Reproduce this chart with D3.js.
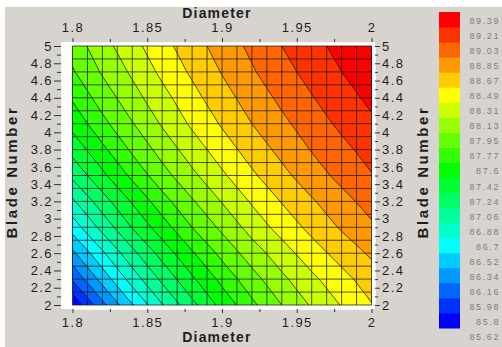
<!DOCTYPE html>
<html>
<head>
<meta charset="utf-8">
<script src="https://cdn.jsdelivr.net/npm/d3@7"></script>
<style>
  html, body { margin: 0; padding: 0; background: #ffffff; }
  svg { display: block; font-family: "Liberation Sans", Arial, sans-serif; }
</style>
</head>
<body>
<svg id="chart" width="502" height="347"></svg>
<script>
// Sample grid: diameter columns, blade-number rows
const diameters = [1.80, 1.82, 1.84, 1.86, 1.88, 1.90, 1.92, 1.94, 1.96, 1.98, 2.00];
const bladeNumbers = [2.0, 2.3, 2.6, 2.9, 3.2, 3.5, 3.8, 4.1, 4.4, 4.7, 5.0];

// Efficiency (%) — one row per blade number, one column per diameter
const efficiencyB20 = [85.65, 86.11, 86.51, 86.87, 87.19, 87.48, 87.73, 87.95, 88.15, 88.32, 88.48];
const efficiencyB23 = [86.00, 86.41, 86.78, 87.10, 87.39, 87.65, 87.88, 88.09, 88.27, 88.43, 88.58];
const efficiencyB26 = [86.30, 86.67, 87.01, 87.31, 87.58, 87.82, 88.04, 88.23, 88.41, 88.56, 88.70];
const efficiencyB29 = [86.60, 86.94, 87.25, 87.52, 87.77, 87.99, 88.20, 88.38, 88.54, 88.69, 88.82];
const efficiencyB32 = [86.85, 87.16, 87.44, 87.70, 87.93, 88.14, 88.33, 88.50, 88.65, 88.79, 88.92];
const efficiencyB35 = [87.10, 87.38, 87.64, 87.88, 88.09, 88.28, 88.46, 88.62, 88.77, 88.90, 89.02];
const efficiencyB38 = [87.30, 87.56, 87.80, 88.02, 88.22, 88.40, 88.57, 88.72, 88.86, 88.98, 89.10];
const efficiencyB41 = [87.48, 87.72, 87.94, 88.15, 88.34, 88.51, 88.67, 88.81, 88.94, 89.07, 89.18];
const efficiencyB44 = [87.62, 87.85, 88.06, 88.25, 88.43, 88.60, 88.75, 88.89, 89.02, 89.14, 89.25];
const efficiencyB47 = [87.75, 87.97, 88.16, 88.35, 88.52, 88.68, 88.83, 88.97, 89.09, 89.21, 89.32];
const efficiencyB50 = [87.85, 88.06, 88.25, 88.43, 88.59, 88.75, 88.89, 89.03, 89.15, 89.27, 89.38];
const efficiencyRows = [efficiencyB20, efficiencyB23, efficiencyB26, efficiencyB29, efficiencyB32,
  efficiencyB35, efficiencyB38, efficiencyB41, efficiencyB44, efficiencyB47, efficiencyB50];

// Contour levels shown on the colour scale
const levels = [85.62, 85.8, 85.98, 86.16, 86.34, 86.52, 86.7, 86.88, 87.06, 87.24, 87.42,
  87.6, 87.77, 87.95, 88.13, 88.31, 88.49, 88.67, 88.85, 89.03, 89.21, 89.39];
const levelLabels = ["85.62", "85.8", "85.98", "86.16", "86.34", "86.52", "86.7", "86.88", "87.06",
  "87.24", "87.42", "87.6", "87.77", "87.95", "88.13", "88.31", "88.49", "88.67", "88.85",
  "89.03", "89.21", "89.39"];

// Axis ticks
const diameterTicks = [1.8, 1.85, 1.9, 1.95, 2];
const diameterMinor = [1.825, 1.875, 1.925, 1.975];
const bladeTicks = [2, 2.2, 2.4, 2.6, 2.8, 3, 3.2, 3.4, 3.6, 3.8, 4, 4.2, 4.4, 4.6, 4.8, 5];
const bladeMinor = [2.1, 2.3, 2.5, 2.7, 2.9, 3.1, 3.3, 3.5, 3.7, 3.9, 4.1, 4.3, 4.5, 4.7, 4.9];

// Computational mesh: 20 x 20 cells
const meshCells = 20;

const svg = d3.select("#chart");
const W = 502, H = 347;

// panel background
svg.append("rect").attr("x", 5).attr("y", 7).attr("width", W - 5).attr("height", H - 7)
  .attr("fill", "#d7d4cf");

const x = d3.scaleLinear().domain([1.8, 2]).range([72.5, 371.5]);
const y = d3.scaleLinear().domain([2, 5]).range([305, 46]);

// white frame behind the plot
svg.append("rect").attr("x", 61).attr("y", 42).attr("width", 375 - 61).attr("height", 309 - 42)
  .attr("fill", "#ffffff");

// colour of band i (between levels[i] and levels[i+1]): rainbow blue -> red
const nBands = levels.length - 1;
const bandColor = i => d3.hsl(240 - 240 * i / (nBands - 1), 1, 0.5).formatHex();

// contour geometry
const nx = diameters.length, ny = bladeNumbers.length;
const flat = [];
for (let j = 0; j < ny; j++) for (let i = 0; i < nx; i++) flat.push(efficiencyRows[j][i]);
const gx = d3.scaleLinear().domain([0.5, nx - 0.5]).range([diameters[0], diameters[nx - 1]]);
const gy = d3.scaleLinear().domain([0.5, ny - 0.5]).range([bladeNumbers[0], bladeNumbers[ny - 1]]);
const contours = d3.contours().size([nx, ny]).thresholds(levels.slice(0, nBands))(flat);
const proj = d3.geoTransform({
  point(px, py) { this.stream.point(x(gx(px)), y(gy(py))); }
});
const path = d3.geoPath(proj);

const defs = svg.append("defs");
defs.append("clipPath").attr("id", "plotClip").append("rect")
  .attr("x", x(1.8)).attr("y", y(5)).attr("width", x(2) - x(1.8)).attr("height", y(2) - y(5));

const plot = svg.append("g").attr("clip-path", "url(#plotClip)");
plot.selectAll("path.band").data(contours).join("path")
  .attr("class", "band")
  .attr("d", path)
  .attr("fill", (d, i) => bandColor(i))
  .attr("stroke", "none");

// contour lines
plot.selectAll("path.iso").data(contours.slice(1)).join("path")
  .attr("class", "iso")
  .attr("d", path)
  .attr("fill", "none")
  .attr("stroke", "#1a1a1a")
  .attr("stroke-opacity", 0.75)
  .attr("stroke-width", 1);

// mesh
const meshD = d3.range(meshCells + 1).map(k => 1.8 + (2 - 1.8) * k / meshCells);
const meshB = d3.range(meshCells + 1).map(k => 2 + (5 - 2) * k / meshCells);
const mesh = svg.append("g").attr("stroke", "#1a1a1a").attr("stroke-opacity", 0.75).attr("stroke-width", 1);
mesh.selectAll("line.v").data(meshD).join("line").attr("class", "v")
  .attr("x1", d => x(d)).attr("x2", d => x(d)).attr("y1", y(5)).attr("y2", y(2));
mesh.selectAll("line.h").data(meshB).join("line").attr("class", "h")
  .attr("y1", d => y(d)).attr("y2", d => y(d)).attr("x1", x(1.8)).attr("x2", x(2));

// axes
const fmt = d => String(d);
function styleAxis(g) {
  g.select(".domain").attr("stroke", "#f4f4f4");
  g.selectAll(".tick line").attr("stroke", "#333");
  g.selectAll(".tick text").attr("fill", "#1e1e1e").attr("font-size", 13)
    .attr("font-family", "'Liberation Sans', Arial, sans-serif").attr("letter-spacing", "1.4px");
}
function minor(g) { g.select(".domain").remove(); g.selectAll(".tick line").attr("stroke", "#333"); g.selectAll("text").remove(); }

svg.append("g").attr("transform", "translate(0,42)")
  .call(d3.axisTop(x).tickValues(diameterTicks).tickFormat(fmt).tickSizeInner(4).tickSizeOuter(0).tickPadding(6)).call(styleAxis);
svg.append("g").attr("transform", "translate(0,42)")
  .call(d3.axisTop(x).tickValues(diameterMinor).tickSize(3)).call(minor);
svg.append("g").attr("transform", "translate(0,309)")
  .call(d3.axisBottom(x).tickValues(diameterTicks).tickFormat(fmt).tickSizeInner(4).tickSizeOuter(0).tickPadding(5)).call(styleAxis);
svg.append("g").attr("transform", "translate(0,309)")
  .call(d3.axisBottom(x).tickValues(diameterMinor).tickSize(3)).call(minor);
svg.append("g").attr("transform", "translate(61,0)")
  .call(d3.axisLeft(y).tickValues(bladeTicks).tickFormat(fmt).tickSizeInner(7).tickSizeOuter(0).tickPadding(1)).call(styleAxis);
svg.append("g").attr("transform", "translate(61,0)")
  .call(d3.axisLeft(y).tickValues(bladeMinor).tickSize(4)).call(minor);
svg.append("g").attr("transform", "translate(375,0)")
  .call(d3.axisRight(y).tickValues(bladeTicks).tickFormat(fmt).tickSizeInner(5).tickSizeOuter(0).tickPadding(2)).call(styleAxis);
svg.append("g").attr("transform", "translate(375,0)")
  .call(d3.axisRight(y).tickValues(bladeMinor).tickSize(3)).call(minor);

// axis titles
const titleStyle = s => s.attr("fill", "#1e1e1e").attr("font-size", 14).attr("font-weight", "bold")
  .attr("letter-spacing", "1.2px").attr("text-anchor", "middle");
svg.append("text").attr("x", 217).attr("y", 18).text("Diameter").call(titleStyle);
svg.append("text").attr("x", 217).attr("y", 342).text("Diameter").call(titleStyle);
svg.append("text").attr("transform", "translate(17,172) rotate(-90)").text("Blade Number").call(titleStyle)
  .attr("font-size", 15).attr("letter-spacing", "2.6px");
svg.append("text").attr("transform", "translate(428,172) rotate(-90)").text("Blade Number").call(titleStyle)
  .attr("font-size", 15).attr("letter-spacing", "2.6px");

// colour scale legend
const ly = d3.scaleLinear().domain([0, nBands]).range([328, 12]);
const legend = svg.append("g");
legend.selectAll("rect").data(d3.range(nBands)).join("rect")
  .attr("x", 439).attr("width", 21)
  .attr("y", i => ly(i + 1)).attr("height", i => ly(i) - ly(i + 1) + 0.5)
  .attr("fill", i => bandColor(i));
legend.selectAll("text").data(levelLabels).join("text")
  .attr("x", 500).attr("y", (d, k) => ly(k) + 12)
  .attr("text-anchor", "end").attr("font-size", 9).attr("letter-spacing", "1.6px")
  .attr("fill", "#7c7c7c").text(d => d);
</script>
</body>
</html>
